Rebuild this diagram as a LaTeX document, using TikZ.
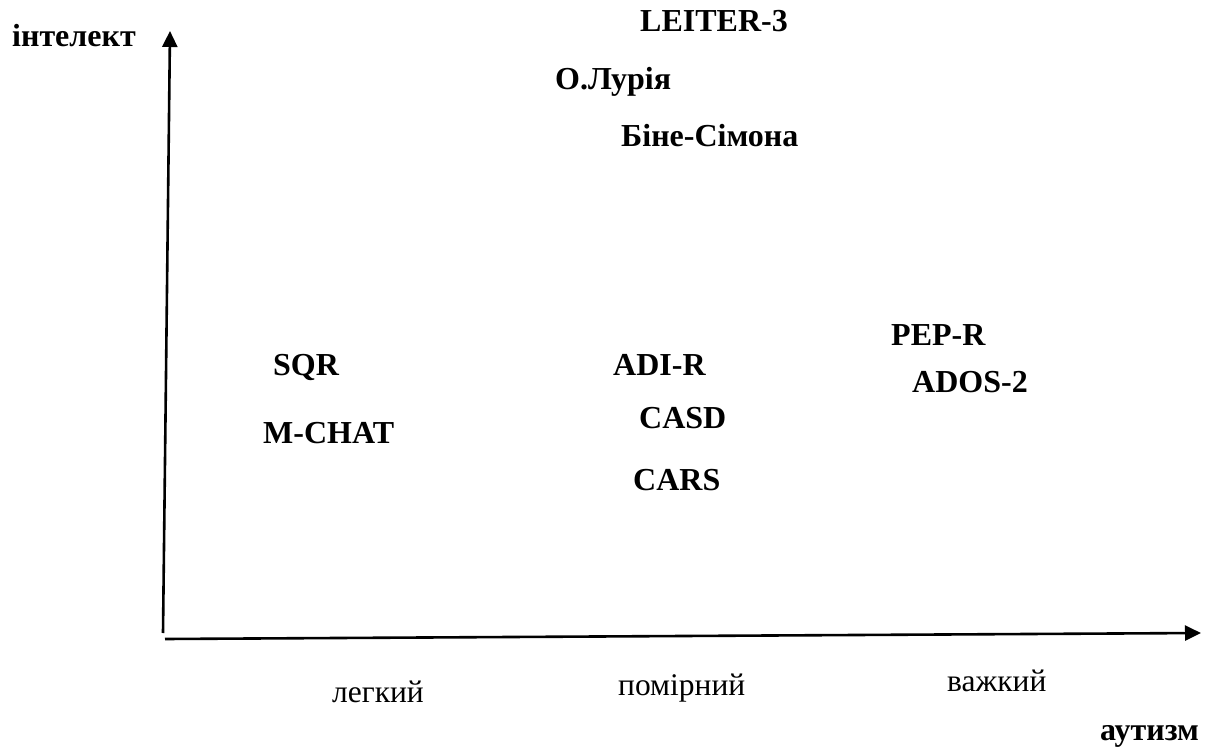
\documentclass[tikz,border=0pt]{standalone}
\usepackage{fontspec}
\setmainfont{Liberation Serif}[BoldFont={Liberation Serif Bold},ItalicFont={Liberation Serif Italic}]
\usetikzlibrary{arrows.meta}
\begin{document}
\begin{tikzpicture}[x=1pt,y=-1pt,
  lbl/.style={anchor=base west,inner sep=0pt,font=\fontsize{32}{38}\selectfont\bfseries},
  axlbl/.style={anchor=base west,inner sep=0pt,font=\fontsize{31.5}{37}\selectfont},
  axis/.style={line width=2.6pt,-{Triangle[length=16pt,width=15pt]}}]
\useasboundingbox (0,0) rectangle (1216,749);
\coordinate (vb) at (163,633);
\coordinate (vt) at (170,31);
\coordinate (hb) at (165,639);
\coordinate (he) at (1201,633);
\draw[axis] (vb) -- (vt);
\draw[axis] (hb) -- (he);
\node[lbl] (int) at (12,47) {інтелект};
\node[lbl] (leiter) at (640,32) {LEITER-3};
\node[lbl] (luria) at (555,90) {О.Лурія};
\node[lbl] (binet) at (621,147) {Біне-Сімона};
\node[lbl] (sqr) at (273,375) {SQR};
\node[lbl] (mchat) at (263,443) {M-CHAT};
\node[lbl] (adir) at (613,375) {ADI-R};
\node[lbl] (casd) at (639,428) {CASD};
\node[lbl] (cars) at (633,490) {CARS};
\node[lbl] (pepr) at (891,345) {PEP-R};
\node[lbl] (ados) at (912,392) {ADOS-2};
\node[axlbl] (legk) at (332,702) {легкий};
\node[axlbl] (pom) at (618,695) {помірний};
\node[axlbl] (vazh) at (947,691) {важкий};
\node[lbl] (aut) at (1100,740) {аутизм};
\end{tikzpicture}
\end{document}
